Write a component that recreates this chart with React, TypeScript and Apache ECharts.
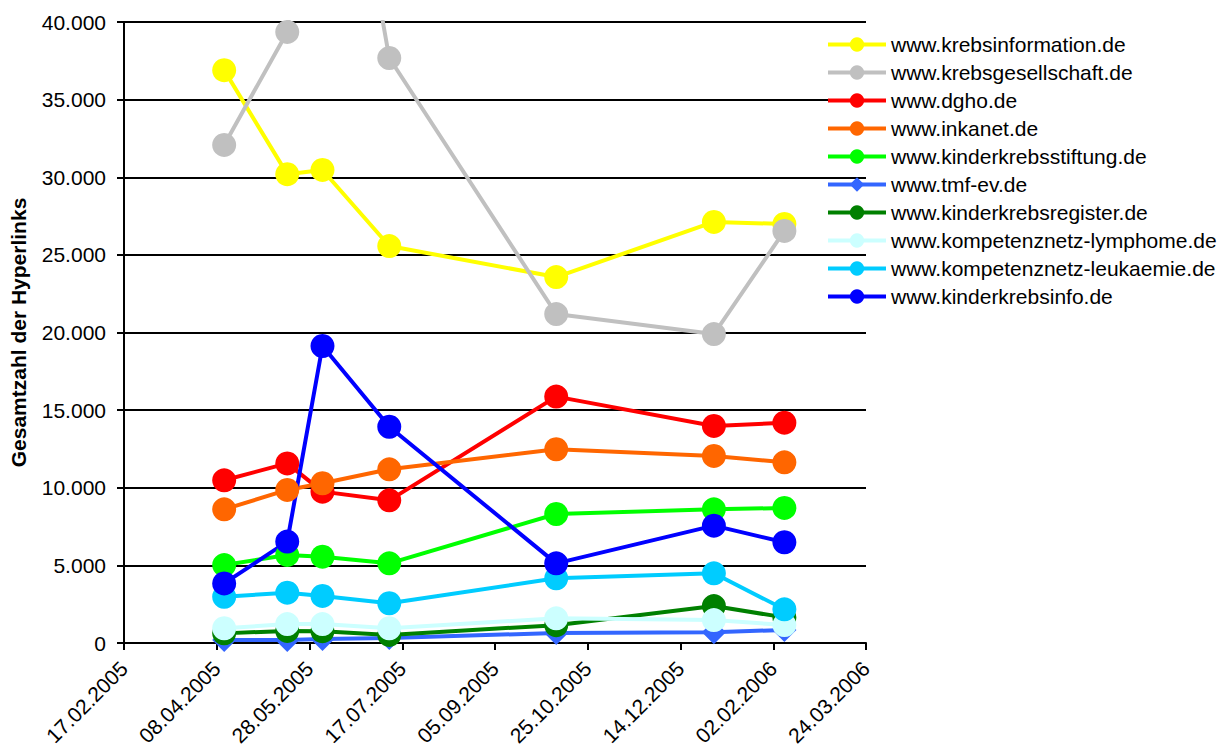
import React, { useEffect, useRef } from "react";
import * as echarts from "echarts";

const dates = ["2005-04-12", "2005-05-16", "2005-06-04", "2005-07-10", "2005-10-08", "2006-01-01", "2006-02-08"];

const seriesNames = [
  "www.krebsinformation.de",
  "www.krebsgesellschaft.de",
  "www.dgho.de",
  "www.inkanet.de",
  "www.kinderkrebsstiftung.de",
  "www.tmf-ev.de",
  "www.kinderkrebsregister.de",
  "www.kompetenznetz-lymphome.de",
  "www.kompetenznetz-leukaemie.de",
  "www.kinderkrebsinfo.de",
];

const krebsinformation = [36900, 30200, 30470, 25570, 23570, 27120, 26990];
const krebsgesellschaft = [32080, 39360, 62000, 37680, 21190, 19900, 26540];
const dgho = [10480, 11570, 9750, 9190, 15870, 13980, 14190];
const inkanet = [8610, 9860, 10290, 11190, 12480, 12050, 11640];
const kinderkrebsstiftung = [5020, 5670, 5560, 5130, 8310, 8610, 8700];
const tmf = [190, 200, 260, 320, 650, 700, 840];
const kinderkrebsregister = [620, 780, 760, 520, 1150, 2380, 1650];
const lymphome = [950, 1220, 1220, 950, 1590, 1480, 1160];
const leukaemie = [2980, 3240, 3030, 2560, 4170, 4490, 2170];
const kinderkrebsinfo = [3840, 6530, 19130, 13930, 5130, 7560, 6490];

const seriesValues = [
  krebsinformation,
  krebsgesellschaft,
  dgho,
  inkanet,
  kinderkrebsstiftung,
  tmf,
  kinderkrebsregister,
  lymphome,
  leukaemie,
  kinderkrebsinfo,
];

const colors = ["#FFFF00", "#C0C0C0", "#FF0000", "#FF6600", "#00FF00", "#3366FF", "#008000", "#CCFFFF", "#00CCFF", "#0000FF"];
const symbols = ["circle", "circle", "circle", "circle", "circle", "diamond", "circle", "circle", "circle", "circle"];

const xMin = "2005-02-17";
const xMax = "2006-03-24";
const xInterval = 50;

const toSerial = (s: string) => {
  const [y, m, d] = s.split("-").map(Number);
  return Math.round((Date.UTC(y, m - 1, d) - Date.UTC(1899, 11, 30)) / 86400000);
};
const fromSerial = (n: number) => {
  const dt = new Date(Date.UTC(1899, 11, 30) + n * 86400000);
  const dd = String(dt.getUTCDate()).padStart(2, "0");
  const mm = String(dt.getUTCMonth() + 1).padStart(2, "0");
  return `${dd}.${mm}.${dt.getUTCFullYear()}`;
};
const fmtThousands = (v: number) => String(v).replace(/\B(?=(\d{3})+(?!\d))/g, ".");

export default function App() {
  const ref = useRef<HTMLDivElement>(null);
  useEffect(() => {
    if (!ref.current) return;
    const chart = echarts.init(ref.current, undefined, { renderer: "svg" });
    const font = "'Liberation Sans', Arial, sans-serif";
    chart.setOption({
      animation: false,
      backgroundColor: "#ffffff",
      textStyle: { fontFamily: font },
      grid: { left: 123, top: 22, right: 363, bottom: 111, containLabel: false },
      legend: {
        orient: "vertical",
        left: 826,
        top: 34,
        padding: 0,
        itemWidth: 58,
        itemHeight: 18,
        itemGap: 7,
        lineStyle: { width: 4 },
        textStyle: { fontSize: 21, color: "#000", fontFamily: font },
        data: seriesNames,
      },
      xAxis: {
        type: "value",
        min: toSerial(xMin),
        max: toSerial(xMax),
        interval: xInterval,
        splitLine: { show: false },
        axisLine: { show: true, onZero: false, lineStyle: { color: "#000", width: 2 } },
        axisTick: { show: true, length: 7, lineStyle: { color: "#000", width: 2 } },
        axisLabel: {
          rotate: 45,
          fontSize: 21,
          color: "#000",
          margin: 22,
          formatter: (v: number) => fromSerial(v),
        },
      },
      yAxis: {
        type: "value",
        min: 0,
        max: 40000,
        interval: 5000,
        name: "Gesamtzahl der Hyperlinks",
        nameLocation: "middle",
        nameGap: 95,
        nameTextStyle: { fontSize: 21, fontWeight: "bold", color: "#000" },
        splitLine: { show: true, lineStyle: { color: "#000", width: 2 } },
        axisLine: { show: true, lineStyle: { color: "#000", width: 2 } },
        axisTick: { show: true, length: 7, lineStyle: { color: "#000", width: 2 } },
        axisLabel: { fontSize: 21, color: "#000", margin: 18, formatter: (v: number) => fmtThousands(v) },
      },
      series: seriesNames.map((name, i) => ({
        name,
        type: "line",
        clip: true,
        data: dates.map((d, j) => [toSerial(d), seriesValues[i][j]]),
        symbol: symbols[i],
        symbolSize: 24,
        lineStyle: { color: colors[i], width: 4 },
        itemStyle: { color: colors[i] },
        emphasis: { disabled: true },
      })),
    });
    return () => chart.dispose();
  }, []);
  return <div ref={ref} style={{ position: "absolute", left: 0, top: 0, width: 1229, height: 754 }} />;
}
